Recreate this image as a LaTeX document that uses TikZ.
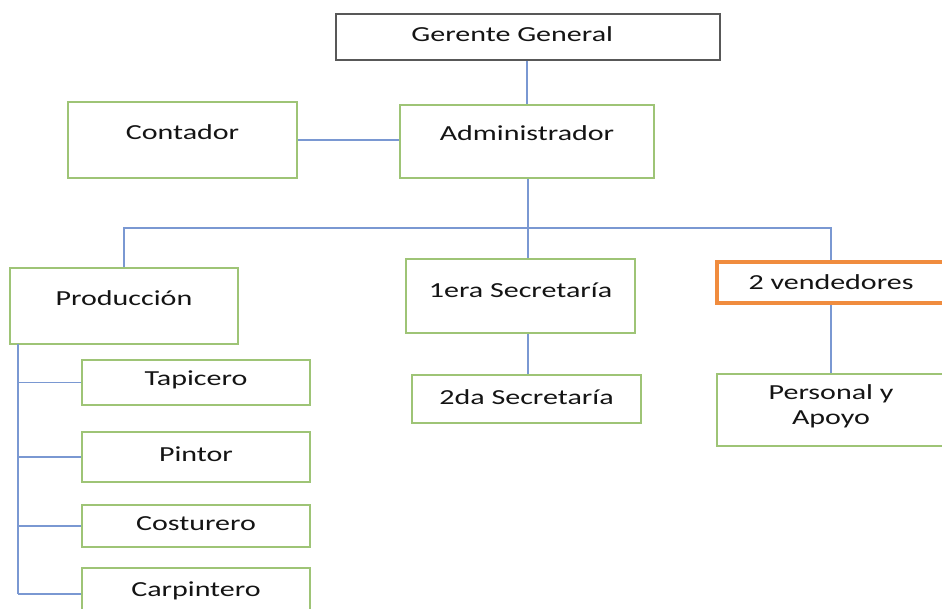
\documentclass[tikz,border=0pt]{standalone}
\usepackage{fontspec}
\setmainfont[FakeStretch=1.4]{Carlito}
\definecolor{boxgreen}{RGB}{158,196,118}
\definecolor{linkblue}{RGB}{122,152,210}
\definecolor{headgray}{RGB}{88,88,88}
\definecolor{vendorange}{RGB}{240,140,62}
\tikzset{
  box/.style={draw=boxgreen, line width=1.4pt, fill=white, inner sep=0pt},
  link/.style={draw=linkblue, line width=1.1pt},
  txt/.style={font=\fontsize{12.2}{14.2}\selectfont, text=black!92}
}
\begin{document}
\begin{tikzpicture}[x=0.02cm,y=-0.02cm]
  \clip (0,0) rectangle (942,608);
  \node[box, draw=headgray, line width=1.6pt, minimum width=7.68cm, minimum height=0.92cm,
    label={[txt,xshift=-9pt,yshift=1.5pt]center:Gerente General}] (gerente) at (528,37) {};
  \node[box, minimum width=5.08cm, minimum height=1.46cm,
    label={[txt,yshift=4.8pt]center:Administrador}] (admin) at (527,141.5) {};
  \node[box, minimum width=4.58cm, minimum height=1.52cm,
    label={[txt,yshift=4.5pt]center:Contador}] (contador) at (182.5,140) {};
  \node[box, minimum width=4.56cm, minimum height=1.52cm,
    label={[txt,yshift=4.5pt]center:Producción}] (prod) at (124,306) {};
  \node[box, minimum width=4.58cm, minimum height=1.48cm,
    label={[txt,yshift=3pt]center:1era Secretaría}] (sec1) at (520.5,296) {};
  \node[box, minimum width=4.58cm, minimum height=0.96cm,
    label={[txt,yshift=1.2pt]center:2da Secretaría}] (sec2) at (526.5,399) {};
  \node[box, draw=vendorange, line width=2pt, minimum width=4.56cm, minimum height=0.82cm,
    label={[txt,yshift=0pt]center:2 vendedores}] (vend) at (831,282.5) {};
  \node[box, minimum width=4.56cm, minimum height=1.44cm,
    label={[txt,align=center,yshift=2pt]center:Personal y\\Apoyo}] (pers) at (831,410) {};
  \node[box, minimum width=4.56cm, minimum height=0.9cm,
    label={[txt,yshift=1.5pt]center:Tapicero}] (tap) at (196,382.5) {};
  \node[box, minimum width=4.56cm, minimum height=1.0cm,
    label={[txt,yshift=1.5pt]center:Pintor}] (pintor) at (196,457) {};
  \node[box, minimum width=4.56cm, minimum height=0.84cm,
    label={[txt,yshift=1.5pt]center:Costurero}] (cost) at (196,526) {};
  \node[box, minimum width=4.56cm, minimum height=1.04cm,
    label={[txt,yshift=2pt]center:Carpintero}] (carp) at (196,594) {};

  \coordinate (bus) at (528,228);
  \coordinate (spine) at (18,344);
  \draw[link] (gerente.south -| admin.north) -- (admin.north);
  \draw[link] (contador.east) -- (contador.east -| admin.west);
  \draw[link] (admin.south -| bus) -- (bus);
  \draw[link] (prod.north) |- (bus) -| (vend.north);
  \draw[link] (bus) -- (bus |- sec1.north);
  \draw[link] (sec1.south -| bus) -- (sec2.north -| bus);
  \draw[link] (vend.south) -- (pers.north);
  \draw[link] (spine) -- (spine |- carp.west);
  \foreach \n in {tap,pintor,cost,carp}
    \draw[link] (spine |- \n.west) -- (\n.west);
\end{tikzpicture}
\end{document}
